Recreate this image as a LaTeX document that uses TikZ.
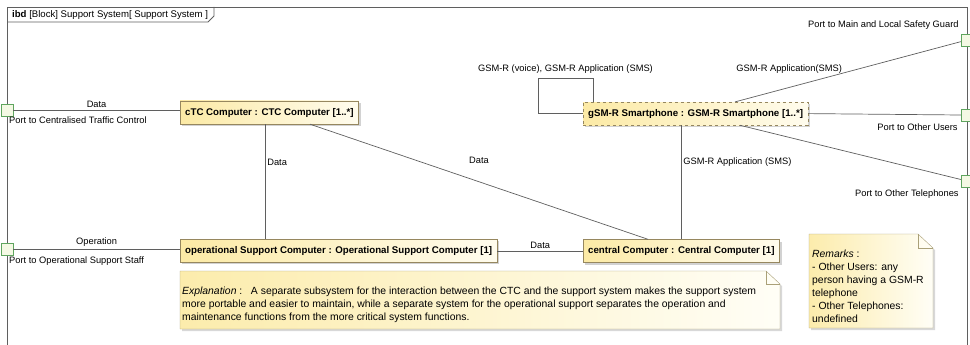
\documentclass[tikz,border=0pt]{standalone}
\usepackage{fontspec}
\setmainfont{Liberation Sans}
\usepackage{tikz}
\usetikzlibrary{positioning, calc, shadows}

\definecolor{wire}{RGB}{95,95,95}
\definecolor{partline}{RGB}{150,135,95}
\definecolor{partleft}{RGB}{252,234,165}
\definecolor{partright}{RGB}{255,252,238}
\definecolor{portline}{RGB}{95,165,95}
\definecolor{portfill}{RGB}{244,249,228}
\definecolor{noteline}{RGB}{170,160,120}
\definecolor{noteleft}{RGB}{252,236,172}
\definecolor{noteright}{RGB}{255,254,246}

\begin{document}
\begin{tikzpicture}[x=1pt, y=-1pt,
    diagframe/.style={draw=wire, line width=0.9pt},
    part/.style={rectangle, draw=partline, left color=partleft, right color=partright,
      minimum height=23pt, inner xsep=5pt, font=\fontsize{9.7}{11}\selectfont\bfseries,
      drop shadow={shadow xshift=2pt, shadow yshift=-2pt, fill=black!35}},
    port/.style={rectangle, draw=portline, fill=portfill, minimum size=12pt, inner sep=0pt},
    conn/.style={draw=wire, line width=0.7pt},
    lbl/.style={font=\fontsize{9.3}{11}\selectfont, inner sep=2pt},
    note/.style={draw=noteline, left color=noteleft, right color=noteright,
      drop shadow={shadow xshift=2pt, shadow yshift=-2pt, fill=black!30}},
    notetext/.style={font=\fontsize{10.4}{13}\selectfont, align=left, inner sep=0pt}
  ]

  \useasboundingbox (0,0) rectangle (970,345);

  % diagram frame
  \draw[diagframe] (7,345) -- (7,7) -- (967,7) -- (967,345);
  \draw[diagframe] (7,22) -- (208,22) -- (214,16) -- (214,7);
  \node[anchor=west, font=\fontsize{9.6}{11}\selectfont, inner sep=0pt] (title) at (12,15)
    {\textbf{ibd} [Block] Support System[ Support System ]};

  % notes
  \draw[note] (180,271) -- (766,271) -- (780,284) -- (780,329) -- (180,329) -- cycle;
  \draw[draw=noteline] (766,271) |- (780,284);
  \node[notetext, anchor=north west] (expl) at (182,287)
    {\textit{Explanation} :\ \ \ A separate subsystem for the interaction between the CTC and the support system makes the support system\\
     more portable and easier to maintain, while a separate system for the operational support separates the operation and\\
     maintenance functions from the more critical system functions.};

  \draw[note] (809,234) -- (918,234) -- (933,248) -- (933,328) -- (809,328) -- cycle;
  \draw[draw=noteline] (918,234) |- (933,248);
  \node[notetext, anchor=north west] (remarks) at (812,250)
    {\textit{Remarks} :\\- Other Users: any\\person having a GSM-R\\telephone\\- Other Telephones:\\undefined};

  % parts
  \node[part, anchor=west] (ctc) at (180,112.5) {cTC Computer : CTC Computer [1..*]};
  \node[part, below=115pt of ctc.south west, anchor=north west] (opsup)
    {operational Support Computer : Operational Support Computer [1]};
  \node[part, anchor=west] (central) at (583,251) {central Computer : Central Computer [1]};
  \node[part, dashed, above=114pt of central.north west, anchor=south west] (gsm)
    {gSM-R Smartphone : GSM-R Smartphone [1..*]};

  % ports
  \node[port] (pCtc) at (7,110) {};
  \node[port] (pOps) at (7,249) {};
  \node[port] (pGuard) at (967,40) {};
  \node[port] (pUsers) at (967,115) {};
  \node[port] (pPhones) at (967,181) {};

  \node[lbl, anchor=north west] (lCtc) at ([yshift=2pt]pCtc.south) {Port to Centralised Traffic Control};
  \node[lbl, anchor=north west] (lOps) at ([yshift=1pt]pOps.south) {Port to Operational Support Staff};
  \node[lbl, anchor=south east] (lGuard) at ([yshift=2pt]pGuard.north west) {Port to Main and Local Safety Guard};
  \node[lbl, anchor=north east] (lUsers) at ([xshift=-1pt]pUsers.south west) {Port to Other Users};
  \node[lbl, anchor=north east] (lPhones) at (pPhones.south west) {Port to Other Telephones};

  % connectors
  \draw[conn] (pCtc.east) -- (pCtc.east -| ctc.west) node[lbl, midway, above] {Data};
  \draw[conn] (pOps.east) -- (pOps.east -| opsup.west) node[lbl, midway, above] {Operation};
  \draw[conn] ([xshift=85pt]ctc.south west) -- ([xshift=85pt]opsup.north west)
    node[lbl, pos=0.33, right] {Data};
  \draw[conn] ([xshift=130pt]ctc.south west) -- ([xshift=65pt]central.north west)
    node[lbl, pos=0.5, yshift=21pt] {Data};
  \draw[conn] (opsup.east) -- (opsup.east -| central.west) node[lbl, midway, above] {Data};
  \draw[conn] ([xshift=98pt]gsm.south west) -- ([xshift=98pt]central.north west)
    node[lbl, pos=0.32, right] {GSM-R Application (SMS)};
  \coordinate (loopc) at (538,78);
  \draw[conn] ([xshift=10pt]gsm.north west) |- (loopc) node[lbl, pos=0.75, above=2pt] {GSM-R (voice), GSM-R Application (SMS)}
    |- (gsm.west);
  \draw[conn] ([xshift=152pt]gsm.north west) -- (pGuard)
    node[lbl, pos=0.24, yshift=18pt] {GSM-R Application(SMS)};
  \draw[conn] (gsm.east) -- (pUsers.west);
  \draw[conn] ([xshift=157pt]gsm.south west) -- (pPhones);

\end{tikzpicture}
\end{document}
